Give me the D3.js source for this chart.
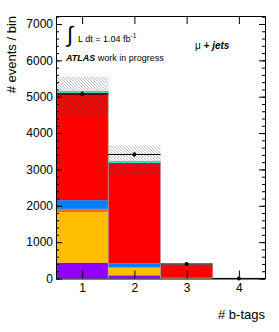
<!DOCTYPE html>
<meta charset="utf-8">
<script src="https://d3js.org/d3.v7.min.js"></script>
<style>
  body { margin: 0; background: #fff; }
  text { font-family: "Liberation Sans", Arial, sans-serif; }
</style>
<div id="my_dataviz"></div>
<script>

// bins (number of b-tags)
var bins = [1, 2, 3, 4];

// stacked MC contributions per bin, bottom to top
var purple  = [435, 88, 3, 0];
var orange  = [1390, 205, 12, 1];
var dkorange = [90, 10, 2, 0];
var blue    = [240, 116, 3, 0];
var red     = [2955, 2763, 365, 5];
var cyan    = [47, 47, 3, 0];

// uncertainty band (low / high) and data
var bandLow  = [4500, 2832, 365, 0];
var bandHigh = [5545, 3658, 410, 8];
var dataVals = [5074, 3410, 400, 2];

var yMajor = [0, 1000, 2000, 3000, 4000, 5000, 6000, 7000];
var yMinor = d3.range(0, 7201, 200);

// set the dimensions and margins of the graph
var margin = {top: 16, right: 14, bottom: 53.5, left: 56},
    width = 279 - margin.left - margin.right,
    height = 332 - margin.top - margin.bottom;

var svgRoot = d3.select("#my_dataviz")
  .append("svg")
    .attr("width", 279)
    .attr("height", 332);

var svg = svgRoot.append("g")
    .attr("transform", "translate(" + margin.left + "," + margin.top + ")");

// hatch pattern for the uncertainty band
var defs = svgRoot.append("defs");
defs.append("pattern")
    .attr("id", "hatch")
    .attr("patternUnits", "userSpaceOnUse")
    .attr("width", 3)
    .attr("height", 3)
  .append("path")
    .attr("d", "M-1,-1 L4,4 M-1,2 L1,4 M2,-1 L4,1")
    .attr("stroke", "#444")
    .attr("stroke-width", 0.6)
    .attr("stroke-opacity", 0.6);

var x = d3.scaleLinear().domain([0.5, 4.5]).range([0, width]);
var y = d3.scaleLinear().domain([0, 7220]).range([height, 0]);

// build the stack
var layers = [
  {name: "purple", values: purple, color: "#8f00ff"},
  {name: "orange", values: orange, color: "#ffbf00"},
  {name: "dkorange", values: dkorange, color: "#ff7000"},
  {name: "blue", values: blue, color: "#0080ff"},
  {name: "red", values: red, color: "#ff0000"},
  {name: "cyan", values: cyan, color: "#00ffcc"}
];

var rows = bins.map(function(b, i) {
  var r = {bin: b};
  layers.forEach(function(l) { r[l.name] = l.values[i]; });
  return r;
});

var stack = d3.stack().keys(layers.map(function(l) { return l.name; }));
var series = stack(rows);

series.forEach(function(s, k) {
  svg.append("g")
    .selectAll("rect")
    .data(s)
    .enter()
    .append("rect")
      .attr("x", function(d) { return x(d.data.bin - 0.5); })
      .attr("width", function(d) { return x(d.data.bin + 0.5) - x(d.data.bin - 0.5); })
      .attr("y", function(d) { return y(d[1]); })
      .attr("height", function(d) { return y(d[0]) - y(d[1]); })
      .attr("fill", layers[k].color);
});

// bin separator lines
svg.append("g")
  .selectAll("line")
  .data(bins.slice(0, 3))
  .enter()
  .append("line")
    .attr("x1", function(d) { return x(d + 0.5); })
    .attr("x2", function(d) { return x(d + 0.5); })
    .attr("y1", function(d, i) { return y(d3.sum(layers, function(l) { return l.values[i]; })); })
    .attr("y2", y(0))
    .attr("stroke", "#b0a0a0")
    .attr("stroke-width", 0.7);

// uncertainty band
svg.append("g")
  .selectAll("rect")
  .data(bins)
  .enter()
  .append("rect")
    .attr("x", function(d) { return x(d - 0.5); })
    .attr("width", function(d) { return x(d + 0.5) - x(d - 0.5); })
    .attr("y", function(d, i) { return y(bandHigh[i]); })
    .attr("height", function(d, i) { return y(bandLow[i]) - y(bandHigh[i]); })
    .attr("fill", "url(#hatch)");

// data: horizontal bars, error bars, markers
var dataG = svg.append("g");
dataG.selectAll(".hbar")
  .data(bins)
  .enter()
  .append("line")
    .attr("x1", function(d) { return x(d - 0.5); })
    .attr("x2", function(d) { return x(d + 0.5); })
    .attr("y1", function(d, i) { return y(dataVals[i]); })
    .attr("y2", function(d, i) { return y(dataVals[i]); })
    .attr("stroke", "#000")
    .attr("stroke-width", 1);
dataG.selectAll(".vbar")
  .data(bins)
  .enter()
  .append("line")
    .attr("x1", function(d) { return x(d); })
    .attr("x2", function(d) { return x(d); })
    .attr("y1", function(d, i) { return y(dataVals[i] + Math.sqrt(dataVals[i])); })
    .attr("y2", function(d, i) { return y(Math.max(0, dataVals[i] - Math.sqrt(dataVals[i]))); })
    .attr("stroke", "#000")
    .attr("stroke-width", 1);
dataG.selectAll("circle")
  .data(bins)
  .enter()
  .append("circle")
    .attr("cx", function(d) { return x(d); })
    .attr("cy", function(d, i) { return y(dataVals[i]); })
    .attr("r", 2)
    .attr("fill", "#000");

// axes (ticks inside on all four sides)
function styleAxis(g) {
  g.selectAll("path").attr("stroke", "#000");
  g.selectAll("line").attr("stroke", "#000");
  g.selectAll("text").attr("font-family", "Liberation Sans, Arial, sans-serif").attr("font-size", 12).attr("fill", "#000");
}

svg.append("g")
  .call(d3.axisLeft(y).tickValues(yMinor).tickSizeInner(-3).tickSizeOuter(0).tickFormat(""))
  .call(styleAxis);
svg.append("g")
  .call(d3.axisLeft(y).tickValues(yMajor).tickSizeInner(-6).tickSizeOuter(0).tickPadding(3).tickFormat(d3.format("d")))
  .call(styleAxis);
svg.append("g")
  .attr("transform", "translate(" + width + ",0)")
  .call(d3.axisRight(y).tickValues(yMinor).tickSizeInner(-3).tickSizeOuter(0).tickFormat(""))
  .call(styleAxis);
svg.append("g")
  .attr("transform", "translate(" + width + ",0)")
  .call(d3.axisRight(y).tickValues(yMajor).tickSizeInner(-6).tickSizeOuter(0).tickFormat(""))
  .call(styleAxis);
svg.append("g")
  .attr("transform", "translate(0," + height + ")")
  .call(d3.axisBottom(x).tickValues(bins).tickSizeInner(-8).tickSizeOuter(0).tickPadding(5).tickFormat(d3.format("d")))
  .call(styleAxis);
svg.append("g")
  .call(d3.axisTop(x).tickValues(bins).tickSizeInner(-8).tickSizeOuter(0).tickFormat(""))
  .call(styleAxis);

// axis titles
svgRoot.append("text")
  .attr("transform", "translate(16,16) rotate(-90)")
  .attr("text-anchor", "end")
  .attr("font-size", 13)
  .text("# events / bin");

svgRoot.append("text")
  .attr("x", 265)
  .attr("y", 319)
  .attr("text-anchor", "end")
  .attr("font-size", 13)
  .text("# b-tags");

// labels
svgRoot.append("text")
  .attr("x", 67)
  .attr("y", 42)
  .attr("font-size", 22)
  .attr("font-family", "DejaVu Sans, sans-serif")
  .text("\u222B");

var lumi = svgRoot.append("text")
  .attr("x", 78)
  .attr("y", 41.5)
  .attr("font-size", 9);
lumi.append("tspan").text("L dt = 1.04 fb");
lumi.append("tspan").attr("dy", -4).attr("font-size", 6.5).text("-1");

var atlas = svgRoot.append("text")
  .attr("x", 66)
  .attr("y", 61)
  .attr("font-size", 9);
atlas.append("tspan").attr("font-weight", "bold").attr("font-style", "italic").text("ATLAS");
atlas.append("tspan").text(" work in progress");

var chan = svgRoot.append("text")
  .attr("x", 195)
  .attr("y", 49)
  .attr("font-size", 10);
chan.append("tspan").text("\u03BC ");
chan.append("tspan").attr("font-weight", "bold").attr("font-style", "italic").text("+ jets");

</script>
